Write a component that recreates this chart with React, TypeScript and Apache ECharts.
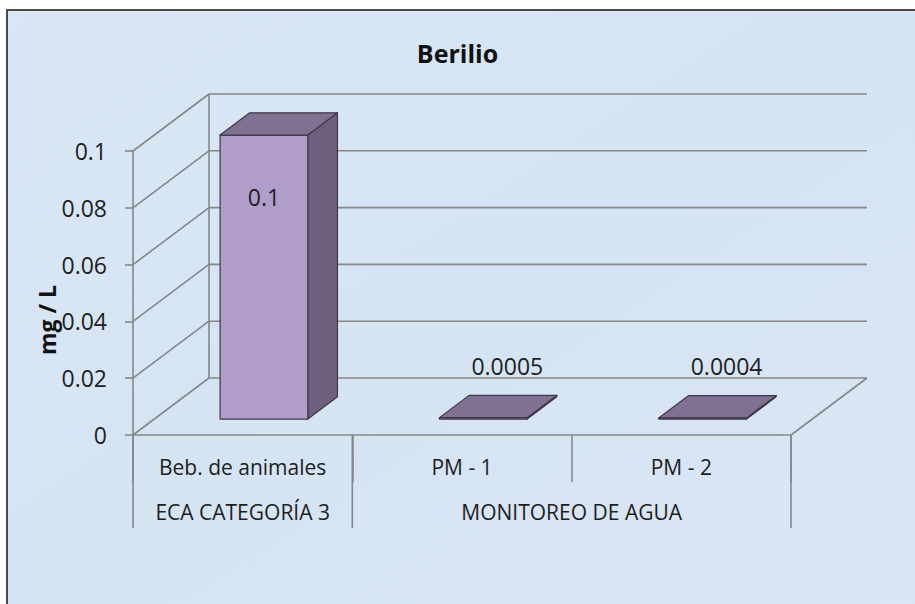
import React, { useEffect, useRef } from "react";
import * as echarts from "echarts";

// Chart data
const categories = ["Beb. de animales", "PM - 1", "PM - 2"];
const values = [0.1, 0.0005, 0.0004];
const valueLabels = ["0.1", "0.0005", "0.0004"];
const groupNames = ["ECA CATEGORÍA 3", "MONITOREO DE AGUA"];
const groupSpans = [1, 2];
const yTicks = [0, 0.02, 0.04, 0.06, 0.08, 0.1];
const yMax = 0.1;
const yStep = 0.02;

// 3D projection of the plot box (pixel offset from front plane to back wall)
const DX = 76;
const DY = -57;
const BAR_DEPTH_START = 0.28;
const BAR_DEPTH = 0.39;
const BAR_WIDTH = 0.4;

const FONT = "'Open Sans', Lato, sans-serif";
const GRID_COLOR = "#878787";
const TEXT_COLOR = "#1e1e1e";

export default function App() {
  const ref = useRef<HTMLDivElement>(null);

  useEffect(() => {
    if (!ref.current) return;
    const chart = echarts.init(ref.current, undefined, { renderer: "svg" });

    // first category index of each group
    const groupStarts: number[] = [];
    let acc = 0;
    groupSpans.forEach((s) => {
      groupStarts.push(acc);
      acc += s;
    });

    const lineStyle = { stroke: GRID_COLOR, lineWidth: 1.6 };

    // side wall diagonals, back wall gridlines and floor outline
    const wallRender = (params: any, api: any) => {
      const v = api.value(1);
      const band = api.size([1, 0])[0];
      const [cx0, y] = api.coord([0, v]);
      const xl = cx0 - band / 2;
      const xr = api.coord([categories.length - 1, v])[0] + band / 2;
      const children: any[] = [
        { type: "line", shape: { x1: xl, y1: y, x2: xl + DX, y2: y + DY }, style: lineStyle },
        { type: "line", shape: { x1: xl + DX, y1: y + DY, x2: xr + DX, y2: y + DY }, style: lineStyle },
      ];
      if (v === 0) {
        children.push({ type: "line", shape: { x1: xr, y1: y, x2: xr + DX, y2: y + DY }, style: lineStyle });
      }
      if (v === yMax) {
        const y0 = api.coord([0, 0])[1];
        children.push({ type: "line", shape: { x1: xl + DX, y1: y + DY, x2: xl + DX, y2: y0 + DY }, style: lineStyle });
      }
      return { type: "group", children };
    };

    // 3D box for each bar with its value label
    const barRender = (params: any, api: any) => {
      const i = api.value(0);
      const v = api.value(1);
      const band = api.size([1, 0])[0];
      const [cx, yTop0] = api.coord([i, v]);
      const yBase0 = api.coord([i, 0])[1];
      const w = band * BAR_WIDTH;
      const ox = DX * BAR_DEPTH_START;
      const oy = DY * BAR_DEPTH_START;
      const dx = DX * BAR_DEPTH;
      const dy = DY * BAR_DEPTH;
      const x1 = cx - w / 2 + ox;
      const x2 = cx + w / 2 + ox;
      const yt = yTop0 + oy;
      const yb = yBase0 + oy;
      const edge = { stroke: "#3f3848", lineWidth: 1.2, lineJoin: "round" };
      const tall = yb - yt > 60;
      const label = valueLabels[params.dataIndex];
      return {
        type: "group",
        children: [
          {
            type: "polygon",
            shape: { points: [[x2, yt], [x2 + dx, yt + dy], [x2 + dx, yb + dy], [x2, yb]] },
            style: { fill: "#6d5f7e", ...edge },
          },
          {
            type: "polygon",
            shape: { points: [[x1, yt], [x2, yt], [x2, yb], [x1, yb]] },
            style: { fill: "#b19dca", ...edge },
          },
          {
            type: "polygon",
            shape: { points: [[x1, yt], [x2, yt], [x2 + dx, yt + dy], [x1 + dx, yt + dy]] },
            style: { fill: "#807193", ...edge },
          },
          {
            type: "text",
            x: tall ? (x1 + x2) / 2 : (x1 + x2) / 2 + 24,
            y: tall ? yt + 62 : yt - 52,
            style: {
              text: label,
              fill: TEXT_COLOR,
              font: `23px ${FONT}`,
              align: "center",
              verticalAlign: "middle",
            },
          },
        ],
      };
    };

    // second row of category labels (groups) with their dividers
    const groupRender = (params: any, api: any) => {
      const start = api.value(0);
      const span = api.value(1);
      const band = api.size([1, 0])[0];
      const y0 = api.coord([start, 0])[1];
      const xl = api.coord([start, 0])[0] - band / 2;
      const xr = api.coord([start + span - 1, 0])[0] + band / 2;
      const children: any[] = [
        { type: "line", shape: { x1: xl, y1: y0, x2: xl, y2: y0 + 93 }, style: lineStyle },
        {
          type: "text",
          x: (xl + xr) / 2,
          y: y0 + 77,
          style: {
            text: groupNames[params.dataIndex],
            fill: TEXT_COLOR,
            font: `21px ${FONT}`,
            align: "center",
            verticalAlign: "middle",
          },
        },
      ];
      if (params.dataIndex === groupNames.length - 1) {
        children.push({ type: "line", shape: { x1: xr, y1: y0, x2: xr, y2: y0 + 93 }, style: lineStyle });
      }
      return { type: "group", children };
    };

    chart.setOption({
      animation: false,
      title: {
        text: "Berilio",
        left: "center",
        top: 35,
        textStyle: { fontFamily: FONT, fontSize: 25, fontWeight: "bold", color: "#111" },
      },
      graphic: [
        {
          type: "rect",
          z: -10,
          shape: { x: 7, y: 10, width: 920, height: 610 },
          style: {
            fill: new echarts.graphic.LinearGradient(0, 0, 1, 1, [
              { offset: 0, color: "#d9e7f5" },
              { offset: 0.5, color: "#d5e4f3" },
              { offset: 1, color: "#d9e6f5" },
            ]),
            stroke: "#4a4a4a",
            lineWidth: 2,
          },
        },
        {
          type: "text",
          x: 47,
          y: 320,
          rotation: Math.PI / 2,
          style: {
            text: "mg / L",
            fill: "#111",
            font: `bold 23px ${FONT}`,
            align: "center",
            verticalAlign: "middle",
          },
        },
      ],
      grid: { left: 133, right: 124, top: 151, bottom: 169, containLabel: false },
      xAxis: {
        type: "category",
        data: categories,
        axisLine: { show: true, lineStyle: { color: GRID_COLOR, width: 1.6 } },
        axisTick: { show: true, interval: 0, length: 47, lineStyle: { color: GRID_COLOR, width: 1.6 } },
        axisLabel: { interval: 0, margin: 21, fontFamily: FONT, fontSize: 21, lineHeight: 22, color: TEXT_COLOR },
        splitLine: { show: false },
      },
      yAxis: {
        type: "value",
        min: 0,
        max: yMax,
        interval: yStep,
        axisLine: { show: true, lineStyle: { color: GRID_COLOR, width: 1.6 } },
        axisTick: { show: true, length: 8, lineStyle: { color: GRID_COLOR, width: 1.6 } },
        axisLabel: { margin: 26, fontFamily: FONT, fontSize: 23, color: TEXT_COLOR },
        splitLine: { show: false },
      },
      series: [
        {
          type: "custom",
          name: "walls",
          clip: false,
          silent: true,
          z: 1,
          renderItem: wallRender,
          data: yTicks.map((v) => [0, v]),
        },
        {
          type: "custom",
          name: "groups",
          clip: false,
          silent: true,
          z: 1,
          renderItem: groupRender,
          data: groupStarts.map((s, i) => [s, groupSpans[i]]),
        },
        {
          type: "custom",
          name: "Berilio",
          clip: false,
          z: 3,
          renderItem: barRender,
          data: values.map((v, i) => [i, v]),
        },
      ],
    });

    return () => chart.dispose();
  }, []);

  return (
    <div
      ref={ref}
      style={{ position: "absolute", left: 0, top: 0, width: 915, height: 604, background: "#ffffff" }}
    />
  );
}
